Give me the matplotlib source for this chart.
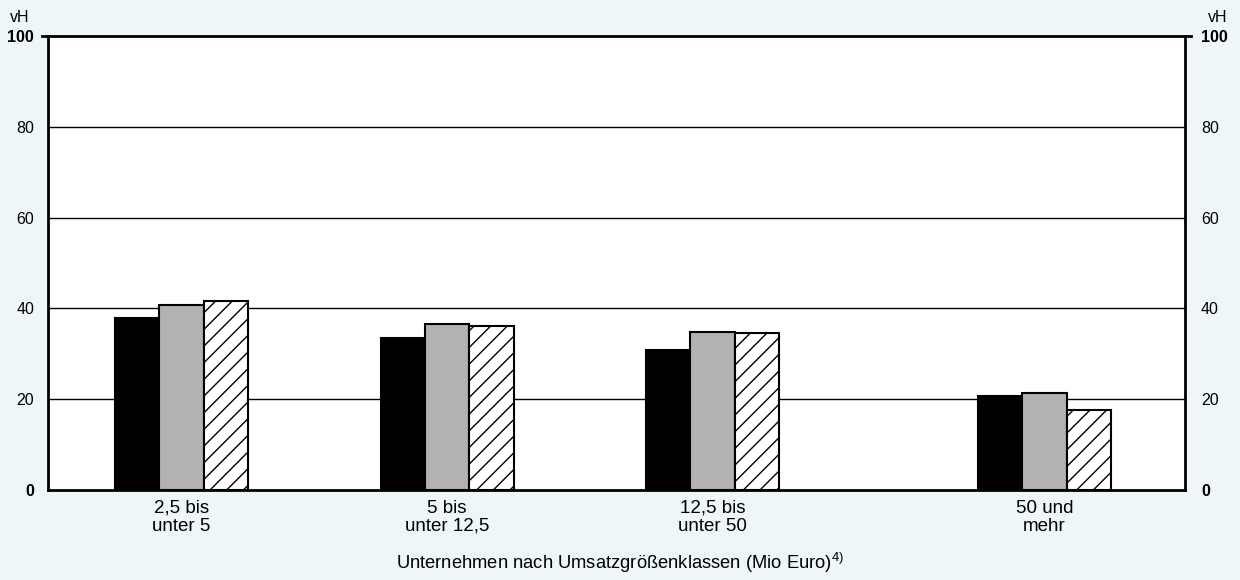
import matplotlib.pyplot as plt
import numpy as np

plt.rcParams['font.family'] = ['Liberation Sans', 'DejaVu Sans']
plt.rcParams['mathtext.fontset'] = 'custom'
plt.rcParams['mathtext.rm'] = 'Liberation Sans'
plt.rcParams['mathtext.it'] = 'Liberation Sans'
plt.rcParams['hatch.linewidth'] = 1.0

# Daten (vH)
kategorien = ['2,5 bis\nunter 5', '5 bis\nunter 12,5', '12,5 bis\nunter 50', '50 und\nmehr']
x_pos = [0, 1, 2, 3.25]
serie_1 = [37.8, 33.5, 30.8, 20.8]
serie_2 = [40.8, 36.5, 34.7, 21.3]
serie_3 = [41.7, 36.2, 34.5, 17.6]
y_ticks = [0, 20, 40, 60, 80, 100]

bg = '#eef6f9'
fig = plt.figure(figsize=(12.4, 5.8), dpi=100, facecolor=bg)
ax = fig.add_axes([0.0387, 0.1552, 0.917, 0.7827])
ax.set_facecolor('white')

x = np.array(x_pos)
w = 0.167
ax.bar(x - w, serie_1, width=w, color='black', edgecolor='black', linewidth=1.5, zorder=3)
ax.bar(x, serie_2, width=w, color='#b2b2b2', edgecolor='black', linewidth=1.5, zorder=3)
ax.bar(x + w, serie_3, width=w, color='white', edgecolor='black', linewidth=1.5,
       hatch='//', zorder=3)

ax.set_xlim(-0.503, 3.78)
ax.set_ylim(0, 100)

# Gitternetz
for t in y_ticks[1:-1]:
    ax.axhline(t, color='black', linewidth=1.0, zorder=1)
ax.axhline(100, xmin=-0.005, xmax=1.005, color='black', linewidth=2.0, clip_on=False, zorder=4)

for s in ['left', 'right', 'bottom']:
    ax.spines[s].set_linewidth(2.0)
ax.spines['top'].set_visible(False)

ax.set_xticks(x)
ax.set_xticklabels(kategorien, fontsize=13.5, linespacing=1.08)
ax.tick_params(axis='x', length=0, pad=7)

ax.set_yticks(y_ticks)
ax.set_yticklabels([str(t) for t in y_ticks], fontsize=11.5)
ax.tick_params(axis='y', length=0, pad=10)

ax2 = ax.twinx()
ax2.set_ylim(0, 100)
ax2.set_yticks(y_ticks)
ax2.set_yticklabels([str(t) for t in y_ticks], fontsize=11.5)
ax2.tick_params(axis='y', length=0, pad=11.5)
for s in ax2.spines.values():
    s.set_visible(False)

for a in (ax, ax2):
    labs = a.get_yticklabels()
    labs[0].set_fontweight('bold')
    labs[-1].set_fontweight('bold')

fig.text(0.0081, 0.969, 'vH', fontsize=11.5, ha='left', va='center')
fig.text(0.990, 0.969, 'vH', fontsize=11.5, ha='right', va='center')

fig.text(0.5, 0.019, 'Unternehmen nach Umsatzgrößenklassen (Mio Euro)$^{4)}$',
         fontsize=13.2, ha='center', va='baseline')

fig.savefig('out.png', dpi=100, facecolor=bg)
